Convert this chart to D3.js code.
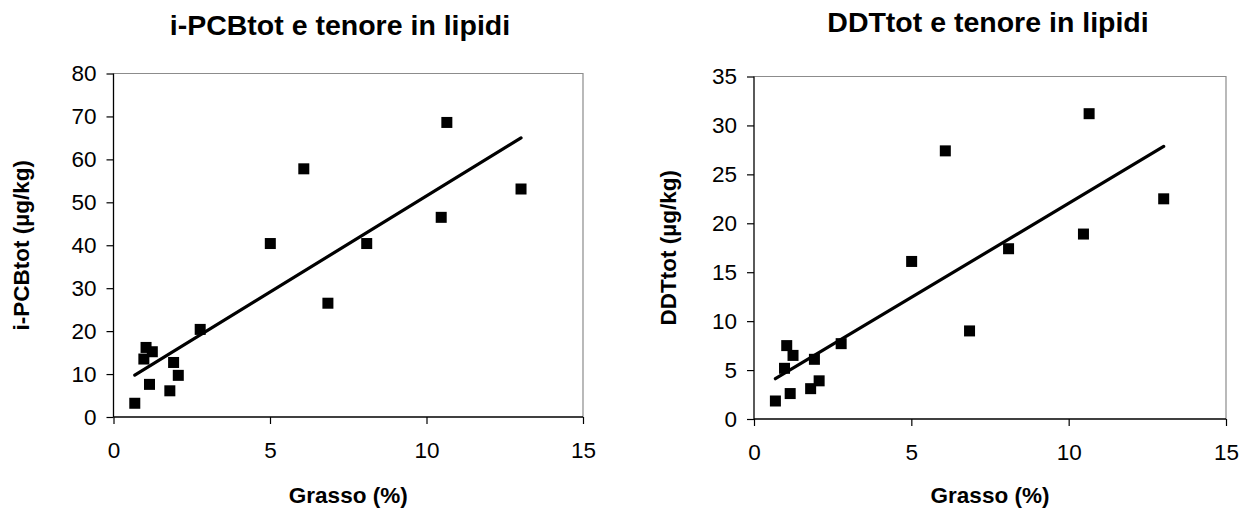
<!DOCTYPE html>
<html>
<head>
<meta charset="utf-8">
<script src="https://cdn.jsdelivr.net/npm/d3@7"></script>
<style>
  body { margin: 0; background: #fff; }
  svg { display: block; font-family: "Liberation Sans", Arial, sans-serif; }
</style>
</head>
<body>
<div id="chart"></div>
<script>
// dati
const grasso = [0.68, 0.97, 1.04, 1.24, 1.15, 1.80, 1.92, 2.07, 2.77, 5.01, 6.08, 6.85, 8.09, 10.47, 10.65, 13.02];
const pcbTot = [3.2, 13.5, 16.2, 15.2, 7.6, 6.1, 12.7, 9.7, 20.4, 40.4, 57.8, 26.5, 40.4, 46.5, 68.6, 53.1];
const ddtTot = [1.84, 5.18, 7.5, 6.5, 2.6, 3.1, 6.1, 3.9, 7.7, 16.1, 27.4, 9.0, 17.4, 18.9, 31.2, 22.5];
const xTicks = [0, 5, 10, 15];
const pcbTicks = [0, 10, 20, 30, 40, 50, 60, 70, 80];
const ddtTicks = [0, 5, 10, 15, 20, 25, 30, 35];

const width = 1247, height = 509;
const svg = d3.select("#chart").append("svg")
    .attr("width", width)
    .attr("height", height);

// retta di regressione (minimi quadrati), come la linea di tendenza di Excel
function linReg(xs, ys) {
    const mx = d3.mean(xs), my = d3.mean(ys);
    let num = 0, den = 0;
    xs.forEach((x, i) => { num += (x - mx) * (ys[i] - my); den += (x - mx) * (x - mx); });
    const b = num / den;
    return { a: my - b * mx, b: b };
}

function drawChart(cfg) {
    const g = svg.append("g");
    const x = d3.scaleLinear().domain([0, 15]).range([cfg.left, cfg.right]);
    const y = d3.scaleLinear().domain([0, cfg.yMax]).range([cfg.bottom, cfg.top]);

    // bordo grigio (alto e destra)
    g.append("path")
        .attr("d", `M${cfg.left},${cfg.top}H${cfg.right}V${cfg.bottom}`)
        .attr("fill", "none")
        .attr("stroke", "#8c8c8c")
        .attr("stroke-width", 1.2);

    const yAxis = g.append("g")
        .attr("transform", `translate(${cfg.left},0)`)
        .call(d3.axisLeft(y).tickValues(cfg.yTicks).tickSize(7).tickPadding(10).tickFormat(d3.format("d")));
    const xAxis = g.append("g")
        .attr("transform", `translate(0,${cfg.bottom})`)
        .call(d3.axisBottom(x).tickValues(xTicks).tickSize(7).tickPadding(18).tickFormat(d3.format("d")));

    [yAxis, xAxis].forEach(ax => {
        ax.select(".domain").attr("stroke", "#000").attr("stroke-width", 1.3);
        ax.selectAll(".tick line").attr("stroke", "#000").attr("stroke-width", 1.2);
        ax.selectAll(".tick text")
            .attr("font-family", "Liberation Sans, Arial, sans-serif")
            .attr("font-size", 22.5)
            .attr("fill", "#000");
    });
    yAxis.select(".domain").attr("d", `M0,${cfg.top}V${cfg.bottom}`);
    xAxis.select(".domain").attr("d", `M${cfg.left},0H${cfg.right}`);

    // linea di tendenza
    const reg = linReg(grasso, cfg.values);
    const xMin = d3.min(grasso), xMax = d3.max(grasso);
    g.append("line")
        .attr("x1", x(xMin)).attr("y1", y(reg.a + reg.b * xMin))
        .attr("x2", x(xMax)).attr("y2", y(reg.a + reg.b * xMax))
        .attr("stroke", "#000")
        .attr("stroke-width", 3.2)
        .attr("stroke-linecap", "round");

    // punti quadrati
    const s = 11;
    g.selectAll("rect.pt")
        .data(grasso.map((d, i) => [d, cfg.values[i]]))
        .enter().append("rect")
        .attr("class", "pt")
        .attr("x", d => x(d[0]) - s / 2)
        .attr("y", d => y(d[1]) - s / 2)
        .attr("width", s)
        .attr("height", s)
        .attr("fill", "#000");

    // titoli
    g.append("text")
        .attr("x", cfg.titleX)
        .attr("y", cfg.titleY)
        .attr("text-anchor", "middle")
        .attr("font-size", 28.5)
        .attr("font-weight", "bold")
        .text(cfg.title);

    g.append("text")
        .attr("x", (cfg.left + cfg.right) / 2)
        .attr("y", 503)
        .attr("text-anchor", "middle")
        .attr("font-size", 22.5)
        .attr("font-weight", "bold")
        .text("Grasso (%)");

    g.append("text")
        .attr("transform", `translate(${cfg.yTitleX},${(cfg.top + cfg.bottom) / 2}) rotate(-90)`)
        .attr("text-anchor", "middle")
        .attr("font-size", 22.5)
        .attr("font-weight", "bold")
        .text(cfg.yTitle);
}

drawChart({
    left: 113.5, right: 583, top: 73.5, bottom: 417,
    yMax: 80, yTicks: pcbTicks, values: pcbTot,
    title: "i-PCBtot e tenore in lipidi", titleX: 340, titleY: 35,
    yTitle: "i-PCBtot (\u00b5g/kg)", yTitleX: 29
});

drawChart({
    left: 754, right: 1226, top: 76.5, bottom: 419,
    yMax: 35, yTicks: ddtTicks, values: ddtTot,
    title: "DDTtot e tenore in lipidi", titleX: 988, titleY: 32,
    yTitle: "DDTtot (\u00b5g/kg)", yTitleX: 676
});
</script>
</body>
</html>
